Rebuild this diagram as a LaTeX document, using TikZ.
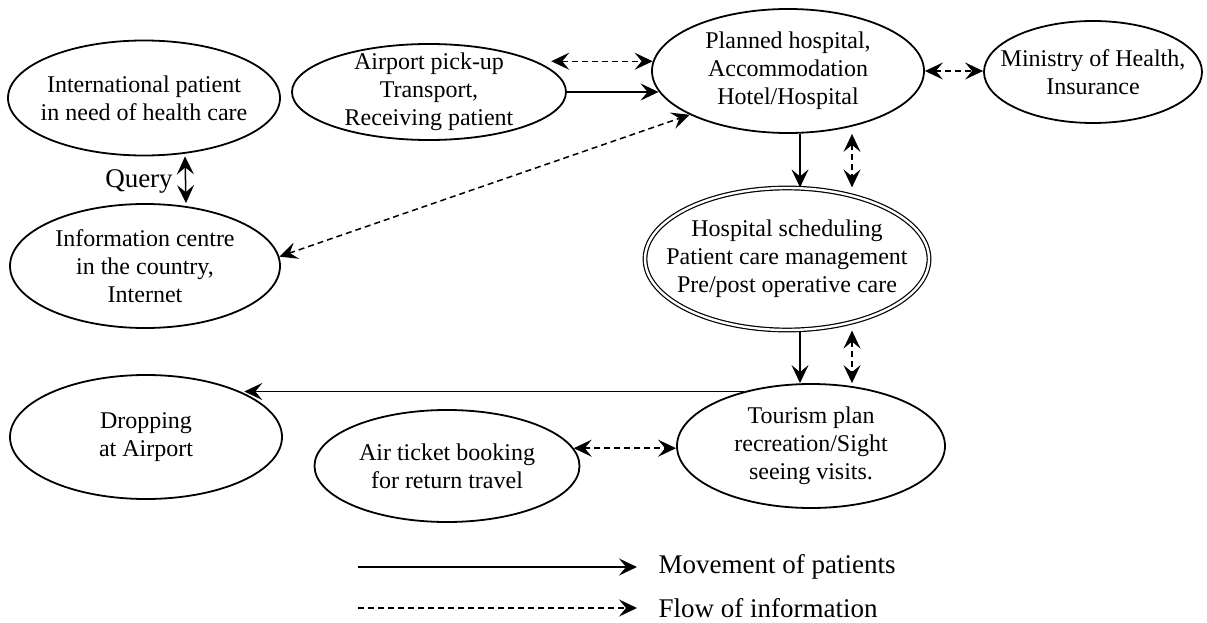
\documentclass[tikz,border=0pt]{standalone}
\usepackage{fontspec}
\setmainfont{Liberation Serif}
\usetikzlibrary{shapes.geometric,arrows.meta}
\begin{document}
\begin{tikzpicture}[x=1pt,y=-1pt,
  ell/.style={ellipse,draw,line width=1.8pt,inner sep=0pt},
  dbl/.style={ellipse,draw,double,double distance=2.4pt,line width=1.2pt,inner sep=0pt},
  txt/.style={align=center,font=\fontsize{24}{28}\selectfont},
  big/.style={font=\fontsize{27}{32}\selectfont},
  patmove/.style={line width=1.5pt,-{Stealth[length=18pt,width=17pt,inset=7pt]}},
  patboth/.style={line width=1.5pt,{Stealth[length=18pt,width=17pt,inset=7pt]}-{Stealth[length=18pt,width=17pt,inset=7pt]}},
  infoboth/.style={line width=1.5pt,dash pattern=on 6pt off 4pt,{Stealth[length=18pt,width=17pt,inset=7pt]}-{Stealth[length=18pt,width=17pt,inset=7pt]}},
  infomove/.style={line width=1.5pt,dash pattern=on 6pt off 4pt,-{Stealth[length=18pt,width=17pt,inset=7pt]}}
]
\fill[white] (0,0) rectangle (1207,623);
\useasboundingbox (0,0) rectangle (1207,623);

% ellipses
\node[ell,minimum width=272pt,minimum height=115pt,label={[txt]center:{International patient\\in need of health care}}] (intl) at (144,98) {};
\node[ell,minimum width=274pt,minimum height=96pt,label={[txt]center:{Airport pick-up\\Transport,\\Receiving patient}}] (airport) at (429,92) {};
\node[ell,minimum width=272pt,minimum height=124pt,label={[txt]center:{Planned hospital,\\Accommodation\\Hotel/Hospital}}] (planned) at (788,71) {};
\node[ell,minimum width=218pt,minimum height=102pt,label={[txt]center:{Ministry of Health,\\Insurance}}] (ministry) at (1093,72) {};
\node[ell,minimum width=270pt,minimum height=124pt,label={[txt]center:{Information centre\\in the country,\\Internet}}] (infoc) at (145,266) {};
\node[dbl,minimum width=284pt,minimum height=142pt,label={[txt]center:{Hospital scheduling\\Patient care management\\Pre/post operative care}}] (sched) at (787,259) {};
\node[ell,minimum width=272pt,minimum height=124pt,label={[txt]center:{Dropping\\at Airport}}] (drop) at (146,437) {};
\node[ell,minimum width=265pt,minimum height=112pt,label={[txt]center:{Air ticket booking\\for return travel}}] (ticket) at (447,466) {};
\node[ell,minimum width=268pt,minimum height=124pt,label={[txt]center:{Tourism plan\\recreation/Sight\\seeing visits.}}] (tour) at (811,446) {};

% Query
\draw[patboth] ([xshift=41pt]intl.south) -- ([xshift=41pt]infoc.north);
\node[big,anchor=base] (query) at (139,187) {Query};

% airport <-> planned
\coordinate (a1) at ([xshift=15pt]airport.16);
\draw[infoboth] (a1) -- (a1 -| planned.176);
\draw[patmove] (airport.east) -- (airport.east -| planned.189);

% planned <-> ministry
\draw[infoboth] (planned.east) -- (planned.east -| ministry.west);

% info centre <-> planned
\draw[infoboth] (infoc.4) -- (planned.204);

% planned -> sched
\draw[patmove] ([xshift=12pt]planned.south) -- ([xshift=12pt]planned.south |- sched.north);
\draw[infoboth] ([xshift=64pt]planned.south) -- ([xshift=64pt]planned.south |- sched.north);

% sched -> tourism
\draw[patmove] ([xshift=13pt]sched.south) -- ([xshift=13pt]sched.south |- tour.north);
\draw[infoboth] ([xshift=65pt]sched.south) -- ([xshift=65pt]sched.south |- tour.north);

% tourism -> dropping
\draw[patmove] (tour.141) -- (tour.141 -| drop.24);

% ticket <-> tourism
\draw[infoboth] (ticket.8) -- (ticket.8 -| tour.west);

% legend
\coordinate (l1s) at (358,567);
\coordinate (l1e) at (637,567);
\coordinate (l2s) at (358,608);
\coordinate (l2e) at (637,608);
\draw[patmove] (l1s) -- (l1e);
\draw[infomove] (l2s) -- (l2e);
\node[big,anchor=west] (leg1) at (655,567) {Movement of patients};
\node[big,anchor=west] (leg2) at (655,608) {Flow of information};
\end{tikzpicture}
\end{document}
